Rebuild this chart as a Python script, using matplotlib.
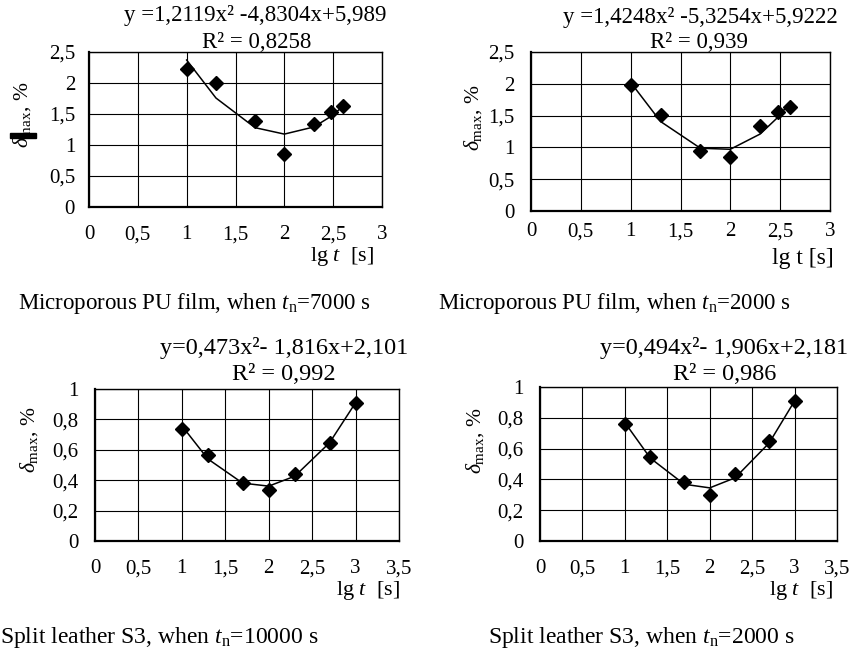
import numpy as np
import matplotlib
matplotlib.use("Agg")
import matplotlib.pyplot as plt
from matplotlib.patches import Rectangle

plt.rcParams["font.family"] = ["Liberation Serif", "DejaVu Serif"]
plt.rcParams["mathtext.fontset"] = "custom"
plt.rcParams["mathtext.rm"] = "Liberation Serif"
plt.rcParams["mathtext.it"] = "Liberation Serif:italic"
plt.rcParams["mathtext.bf"] = "Liberation Serif:bold"

# ---- data -------------------------------------------------------------
x_film = [1.0, 1.3, 1.7, 2.0, 2.3, 2.48, 2.6]
y_film_7000 = [2.22, 2.00, 1.39, 0.85, 1.34, 1.54, 1.63]
y_film_2000 = [1.98, 1.51, 0.95, 0.85, 1.34, 1.55, 1.64]

x_leather = [1.0, 1.3, 1.7, 2.0, 2.3, 2.7, 3.0]
y_leather_10000 = [0.735, 0.565, 0.38, 0.335, 0.44, 0.645, 0.905]
y_leather_2000 = [0.762, 0.545, 0.383, 0.297, 0.433, 0.649, 0.907]

# quadratic trend coefficients (a, b, c) for y = a*x^2 + b*x + c
fit_film_7000 = (1.2119, -4.8304, 5.989)
fit_film_2000 = (1.4248, -5.3254, 5.9222)
fit_leather_10000 = (0.473, -1.816, 2.101)
fit_leather_2000 = (0.494, -1.906, 2.181)

eq_film_7000 = "y =1,2119x² -4,8304x+5,989"
eq_film_2000 = "y =1,4248x² -5,3254x+5,9222"
eq_leather_10000 = "y=0,473x²- 1,816x+2,101"
eq_leather_2000 = "y=0,494x²- 1,906x+2,181"
r2_film_7000 = "R² = 0,8258"
r2_film_2000 = "R² = 0,939"
r2_leather_10000 = "R² = 0,992"
r2_leather_2000 = "R² = 0,986"

xticks_film = ["0", "0,5", "1", "1,5", "2", "2,5", "3"]
yticks_film = ["0", "0,5", "1", "1,5", "2", "2,5"]
xticks_leather = ["0", "0,5", "1", "1,5", "2", "2,5", "3", "3,5"]
yticks_leather = ["0", "0,2", "0,4", "0,6", "0,8", "1"]

captions = [
    r"Microporous PU film, when $t_{\mathrm{n}}$=7000 s",
    r"Microporous PU film, when $t_{\mathrm{n}}$=2000 s",
    r"Split leather S3, when $t_{\mathrm{n}}$=10000 s",
    r"Split leather S3, when $t_{\mathrm{n}}$=2000 s",
]

# ---- layout helpers (pixel coordinates) -------------------------------
W, H = 855, 651
fig = plt.figure(figsize=(W / 100, H / 100), dpi=100)
fig.patch.set_facecolor("white")


def fx(x):
    return x / W


def fy(y):
    return 1 - y / H


def make_axes(l, r, t, b):
    return fig.add_axes([fx(l), fy(b), (r - l) / W, (b - t) / H])


def draw_panel(ax, xs, ys, fit, xlabels, ylabels, xstep, ystep,
               xpad, ypad, fs):
    xt = [i * xstep for i in range(len(xlabels))]
    yt = [i * ystep for i in range(len(ylabels))]
    ax.set_xlim(xt[0], xt[-1])
    ax.set_ylim(yt[0], yt[-1])
    ax.set_xticks(xt)
    ax.set_xticklabels(xlabels, fontsize=fs)
    ax.set_yticks(yt)
    ax.set_yticklabels(ylabels, fontsize=fs)
    ax.tick_params(length=0, colors="black")
    ax.tick_params(axis="x", pad=xpad)
    ax.tick_params(axis="y", pad=ypad)
    ax.grid(True, color="black", linewidth=0.8)
    ax.set_axisbelow(True)
    for side in ("top", "right"):
        ax.spines[side].set_linewidth(1.0)
    for side in ("left", "bottom"):
        ax.spines[side].set_linewidth(1.6)
    a, b, c = fit
    xs_arr = np.asarray(xs)
    trend = a * xs_arr ** 2 + b * xs_arr + c
    ax.plot(xs_arr, trend, color="black", linewidth=1.1, zorder=3)
    ax.plot(xs, ys, linestyle="none", marker="D", markersize=7.5,
            color="black", zorder=4, clip_on=False)


fs_tick = 15
ax1 = make_axes(89, 382, 52, 207)
draw_panel(ax1, x_film, y_film_7000, fit_film_7000, xticks_film,
           yticks_film, 0.5, 0.5, 13, 10, fs_tick)
ax2 = make_axes(531, 830, 52, 211)
draw_panel(ax2, x_film, y_film_2000, fit_film_2000, xticks_film,
           yticks_film, 0.5, 0.5, 8, 12, fs_tick)
ax3 = make_axes(95, 399, 389, 541)
draw_panel(ax3, x_leather, y_leather_10000, fit_leather_10000,
           xticks_leather, yticks_leather, 0.5, 0.2, 13, 12, fs_tick)
ax4 = make_axes(540, 837, 387, 541)
draw_panel(ax4, x_leather, y_leather_2000, fit_leather_2000,
           xticks_leather, yticks_leather, 0.5, 0.2, 13, 12, fs_tick)

# ---- equations --------------------------------------------------------
fs_eq_top = 16.5
fs_eq_bot = 17.5
fig.text(fx(255), fy(15), eq_film_7000, ha="center", va="center", fontsize=fs_eq_top)
fig.text(fx(257), fy(42), r2_film_7000, ha="center", va="center", fontsize=fs_eq_top)
fig.text(fx(700), fy(17), eq_film_2000, ha="center", va="center", fontsize=fs_eq_top)
fig.text(fx(699), fy(43), r2_film_2000, ha="center", va="center", fontsize=fs_eq_top)
fig.text(fx(284), fy(348), eq_leather_10000, ha="center", va="center", fontsize=fs_eq_bot)
fig.text(fx(284), fy(375), r2_leather_10000, ha="center", va="center", fontsize=fs_eq_bot)
fig.text(fx(724), fy(348), eq_leather_2000, ha="center", va="center", fontsize=fs_eq_bot)
fig.text(fx(725), fy(375), r2_leather_2000, ha="center", va="center", fontsize=fs_eq_bot)

# ---- axis titles ------------------------------------------------------
fs_lab = 15.5
ylab = r"$\delta_{\mathrm{max}}$, %"
fig.text(fx(22), fy(115), ylab, rotation=90,
         ha="center", va="center", fontsize=fs_lab)
fig.add_artist(Rectangle((fx(10), fy(138)), 26 / W, 5 / H,
                         transform=fig.transFigure, color="black"))
fig.text(fx(473), fy(118), ylab, rotation=90,
         ha="center", va="center", fontsize=fs_lab)
fig.text(fx(29), fy(440), ylab, rotation=90,
         ha="center", va="center", fontsize=fs_lab)
fig.text(fx(475), fy(441), ylab, rotation=90,
         ha="center", va="center", fontsize=fs_lab)

fs_x = 16
fig.text(fx(374), fy(257), r"lg $t$  [s]", ha="right", va="center", fontsize=fs_x)
fig.text(fx(834), fy(258), "lg t [s]", ha="right", va="center", fontsize=fs_x + 1)
fig.text(fx(400), fy(591), r"lg $t$  [s]", ha="right", va="center", fontsize=fs_x)
fig.text(fx(833), fy(591), r"lg $t$  [s]", ha="right", va="center", fontsize=fs_x)

# ---- captions ---------------------------------------------------------
fig.text(fx(18), fy(304), captions[0], ha="left", va="center", fontsize=16.5)
fig.text(fx(438), fy(304), captions[1], ha="left", va="center", fontsize=16.5)
fig.text(fx(0), fy(637), captions[2], ha="left", va="center", fontsize=17)
fig.text(fx(488), fy(637), captions[3], ha="left", va="center", fontsize=17)

fig.savefig("out.png", dpi=100, facecolor="white")
